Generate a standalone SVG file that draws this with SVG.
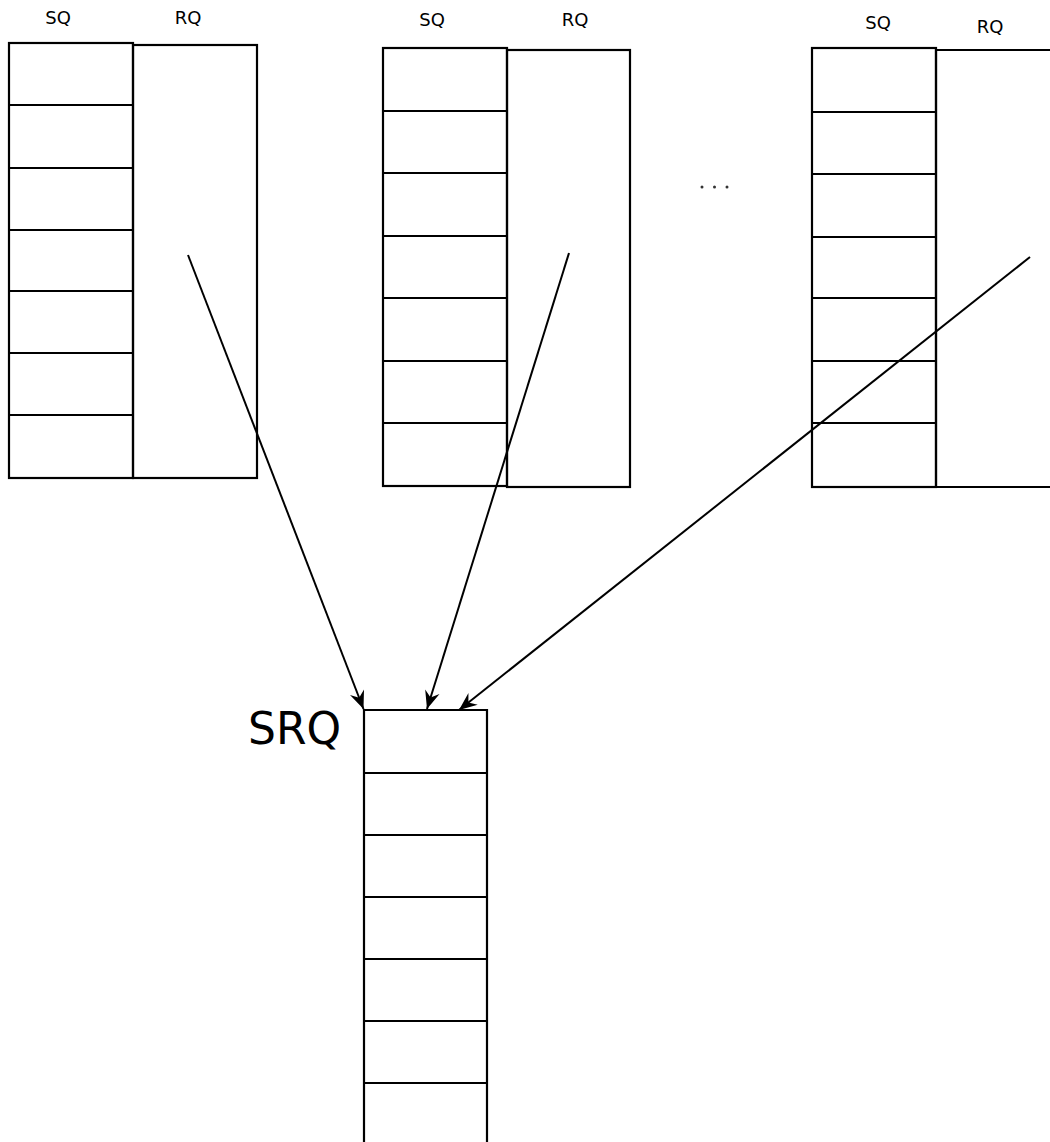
<svg xmlns="http://www.w3.org/2000/svg" width="1050" height="1142" viewBox="0 0 1050 1142">
<style>
.box{fill:none;stroke:#000;stroke-width:2.2}
.lbl{font-family:"DejaVu Sans",sans-serif;font-size:18px;fill:#000;text-anchor:middle}
.big{font-family:"DejaVu Sans",sans-serif;font-size:44px;fill:#000}
.conn{stroke:#000;stroke-width:2;fill:none}
</style>
<defs>
<marker id="ah" markerUnits="userSpaceOnUse" markerWidth="22" markerHeight="18" viewBox="-19 -9 20 18" refX="0" refY="0" orient="auto">
<path d="M0,0 L-18,-7.5 L-12,0 L-18,7.5 Z" fill="#000"/>
</marker>
</defs>
<rect width="1050" height="1142" fill="#fff"/>

<g id="q1-labels">
<text class="lbl" x="58" y="24">SQ</text>
<text class="lbl" x="188" y="24">RQ</text>
</g>
<g id="sq1">
<rect class="box" x="9" y="43" width="124" height="435"/>
<path class="box" d="M9,105H133M9,168H133M9,230H133M9,291H133M9,353H133M9,415H133"/>
</g>
<g id="rq1">
<rect class="box" x="133" y="45" width="124" height="433"/>
</g>

<g id="q2-labels">
<text class="lbl" x="432" y="26">SQ</text>
<text class="lbl" x="575" y="26">RQ</text>
</g>
<g id="sq2">
<rect class="box" x="383" y="48" width="124" height="438"/>
<path class="box" d="M383,111H507M383,173H507M383,236H507M383,298H507M383,361H507M383,423H507"/>
</g>
<g id="rq2">
<rect class="box" x="507" y="50" width="123" height="437"/>
</g>

<g id="dots">
<circle cx="702" cy="187" r="1.5" fill="#333"/>
<circle cx="714.5" cy="187" r="1.5" fill="#333"/>
<circle cx="727" cy="187" r="1.5" fill="#333"/>
</g>

<g id="q3-labels">
<text class="lbl" x="878" y="29">SQ</text>
<text class="lbl" x="990" y="33">RQ</text>
</g>
<g id="sq3">
<rect class="box" x="812" y="48" width="124" height="439"/>
<path class="box" d="M812,112H936M812,174H936M812,237H936M812,298H936M812,361H936M812,423H936"/>
</g>
<g id="rq3">
<path class="box" d="M1051,50H936V487H1051"/>
</g>

<g id="srq">
<text class="big" x="248" y="744">SRQ</text>
<path class="box" d="M364,1143V710H487V1143M364,773H487M364,835H487M364,897H487M364,959H487M364,1021H487M364,1083H487"/>
</g>

<g id="connectors">
<line class="conn" x1="188" y1="255" x2="363.5" y2="709" marker-end="url(#ah)"/>
<line class="conn" x1="569" y1="253" x2="427" y2="709" marker-end="url(#ah)"/>
<line class="conn" x1="1030" y1="257" x2="459" y2="710" marker-end="url(#ah)"/>
</g>
</svg>
